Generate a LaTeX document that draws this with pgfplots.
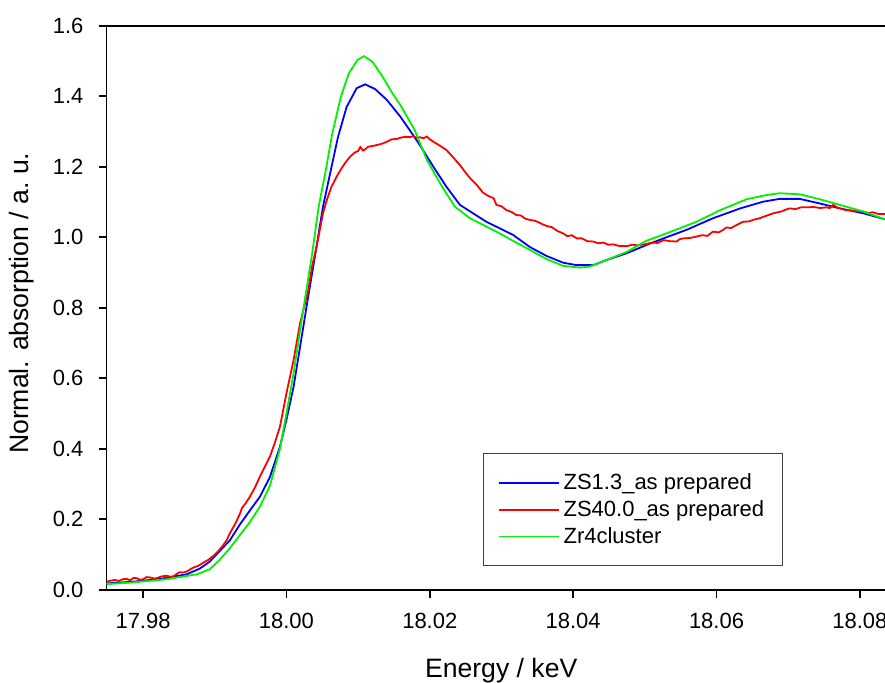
\documentclass[border=0pt]{standalone}
\usepackage{fontspec}
\setmainfont{Liberation Sans}
\usepackage{pgfplots}
\pgfplotsset{compat=1.18}
\definecolor{cblue}{rgb}{0,0,1}
\definecolor{cred}{rgb}{1,0,0}
\definecolor{cgreen}{rgb}{0,0.95,0}
\begin{document}
\begin{tikzpicture}
\begin{axis}[
  name=ax,
  scale only axis,
  width=389.25pt, height=282pt,
  xmin=17.9749, xmax=18.0835,
  ymin=0, ymax=1.6,
  axis x line*=box, axis y line*=left,
  xtick pos=left, ytick pos=left,
  xtick={17.98,18.00,...,18.08},
  ytick={0,0.2,...,1.6},
  xtick align=outside, ytick align=outside,
  major tick length=4pt,
  axis line style={line width=0.9pt},
  every tick/.style={black, line width=0.9pt},
  /pgf/number format/assume math mode=true,
  xticklabel style={/pgf/number format/.cd, fixed, fixed zerofill, precision=2, /tikz/.cd, font=\fontsize{11}{13}\selectfont, yshift=-4pt},
  yticklabel style={/pgf/number format/.cd, fixed, fixed zerofill, precision=1, /tikz/.cd, font=\fontsize{11}{13}\selectfont, xshift=-4pt},
  xlabel={Energy / keV},
  ylabel={Normal. absorption / a.\ u.},
  label style={font=\fontsize{13.3}{16}\selectfont},
  xlabel style={at={(axis description cs:0.507,0)}, anchor=north, yshift=-30.5pt},
  ylabel style={at={(axis description cs:0,0.508)}, anchor=south, yshift=32.5pt},
  legend style={at={(axis description cs:0.484,0.0427)}, anchor=south west,
    draw=black!75, line width=0.5pt, inner xsep=7pt, inner ysep=7.6pt,
    font=\fontsize{11}{13.5}\selectfont, row sep=0pt},
  legend cell align=left,
  legend image code/.code={\draw[#1, line width=0.9pt] (0pt,0pt) -- (25pt,0pt); \path (0pt,0pt) -- (30pt,0pt);},
  every axis plot/.append style={line width=0.9pt},
]
\addplot[cblue] coordinates {
(17.9749,0.018) (17.9786,0.023) (17.9824,0.031) (17.9861,0.044) (17.9879,0.060)
(17.9893,0.080) (17.9907,0.110) (17.9921,0.140) (17.9935,0.185) (17.9949,0.225)
(17.9963,0.264) (17.9977,0.320) (17.9991,0.406) (18.0000,0.482) (18.0010,0.576)
(18.0019,0.689) (18.0030,0.827) (18.0042,0.973) (18.0051,1.087) (18.0061,1.182)
(18.0072,1.285) (18.0084,1.370) (18.0098,1.423) (18.0110,1.434) (18.0124,1.420)
(18.0140,1.390) (18.0159,1.342) (18.0172,1.304) (18.0186,1.262) (18.0205,1.200)
(18.0223,1.144) (18.0242,1.092) (18.0265,1.062) (18.0279,1.044) (18.0293,1.030)
(18.0316,1.007) (18.0340,0.972) (18.0363,0.947) (18.0386,0.928) (18.0405,0.921)
(18.0428,0.921) (18.0447,0.936) (18.0475,0.955) (18.0502,0.978) (18.0530,1.000)
(18.0558,1.021) (18.0595,1.054) (18.0633,1.082) (18.0665,1.101) (18.0688,1.109)
(18.0716,1.109) (18.0744,1.096) (18.0772,1.082) (18.0805,1.068) (18.0835,1.051)
};
\addlegendentry{ZS1.3\_as prepared}
\addplot[cred] coordinates {
(17.9749,0.023) (17.9755,0.026) (17.9761,0.028) (17.9766,0.025) (17.9772,0.030)
(17.9777,0.031) (17.9782,0.027) (17.9787,0.034) (17.9791,0.033) (17.9796,0.028)
(17.9800,0.030) (17.9805,0.036) (17.9810,0.035) (17.9815,0.032) (17.9819,0.033)
(17.9826,0.038) (17.9833,0.040) (17.9838,0.037) (17.9842,0.038) (17.9847,0.045)
(17.9851,0.050) (17.9856,0.049) (17.9861,0.052) (17.9866,0.058) (17.9870,0.063)
(17.9877,0.068) (17.9884,0.077) (17.9891,0.085) (17.9898,0.096) (17.9905,0.110)
(17.9912,0.127) (17.9917,0.142) (17.9921,0.160) (17.9928,0.185) (17.9935,0.215)
(17.9938,0.232) (17.9943,0.245) (17.9949,0.264) (17.9956,0.290) (17.9963,0.321)
(17.9970,0.350) (17.9977,0.378) (17.9984,0.418) (17.9991,0.463) (18.0000,0.557)
(18.0010,0.652) (18.0019,0.756) (18.0030,0.845) (18.0036,0.920) (18.0042,0.973)
(18.0051,1.068) (18.0057,1.110) (18.0063,1.144) (18.0070,1.172) (18.0077,1.196)
(18.0083,1.214) (18.0089,1.229) (18.0095,1.240) (18.0100,1.245) (18.0103,1.256)
(18.0107,1.246) (18.0110,1.250) (18.0114,1.257) (18.0120,1.259) (18.0127,1.262)
(18.0134,1.266) (18.0140,1.271) (18.0147,1.278) (18.0154,1.279) (18.0160,1.283)
(18.0166,1.285) (18.0172,1.284) (18.0177,1.287) (18.0182,1.282) (18.0186,1.284)
(18.0191,1.281) (18.0196,1.286) (18.0200,1.278) (18.0205,1.271) (18.0214,1.260)
(18.0223,1.248) (18.0232,1.228) (18.0242,1.205) (18.0249,1.186) (18.0256,1.168)
(18.0265,1.150) (18.0274,1.127) (18.0281,1.118) (18.0289,1.111) (18.0293,1.092)
(18.0300,1.088) (18.0307,1.077) (18.0314,1.072) (18.0321,1.063) (18.0327,1.062)
(18.0333,1.053) (18.0340,1.049) (18.0347,1.047) (18.0355,1.039) (18.0363,1.032)
(18.0370,1.029) (18.0378,1.018) (18.0386,1.011) (18.0392,1.003) (18.0398,1.006)
(18.0405,0.997) (18.0412,0.997) (18.0420,0.989) (18.0428,0.988) (18.0435,0.983)
(18.0442,0.985) (18.0449,0.979) (18.0456,0.980) (18.0465,0.975) (18.0475,0.975)
(18.0483,0.979) (18.0490,0.977) (18.0502,0.981) (18.0510,0.985) (18.0518,0.984)
(18.0526,0.992) (18.0535,0.989) (18.0544,0.988) (18.0549,0.995) (18.0554,0.997)
(18.0563,0.998) (18.0572,1.002) (18.0580,1.006) (18.0587,1.004) (18.0595,1.016)
(18.0603,1.014) (18.0609,1.021) (18.0614,1.028) (18.0620,1.026) (18.0628,1.035)
(18.0637,1.044) (18.0645,1.045) (18.0652,1.050) (18.0660,1.054) (18.0668,1.060)
(18.0679,1.068) (18.0690,1.073) (18.0696,1.078) (18.0702,1.082) (18.0710,1.080)
(18.0718,1.085) (18.0726,1.085) (18.0735,1.086) (18.0745,1.083) (18.0753,1.085)
(18.0758,1.083) (18.0763,1.092) (18.0768,1.085) (18.0775,1.080) (18.0781,1.077)
(18.0790,1.076) (18.0797,1.074) (18.0805,1.073) (18.0812,1.069) (18.0818,1.071)
(18.0826,1.066) (18.0835,1.066)
};
\addlegendentry{ZS40.0\_as prepared}
\addplot[cgreen] coordinates {
(17.9749,0.016) (17.9786,0.021) (17.9833,0.030) (17.9875,0.044) (17.9893,0.058)
(17.9907,0.085) (17.9921,0.118) (17.9935,0.155) (17.9949,0.192) (17.9963,0.236)
(17.9977,0.295) (17.9991,0.400) (18.0000,0.500) (18.0010,0.614) (18.0019,0.735)
(18.0026,0.827) (18.0036,0.955) (18.0045,1.087) (18.0055,1.191) (18.0064,1.295)
(18.0076,1.399) (18.0087,1.465) (18.0099,1.503) (18.0108,1.514) (18.0120,1.498)
(18.0134,1.456) (18.0148,1.408) (18.0159,1.375) (18.0179,1.304) (18.0196,1.219)
(18.0217,1.144) (18.0235,1.087) (18.0256,1.054) (18.0293,1.016) (18.0316,0.990)
(18.0340,0.964) (18.0363,0.938) (18.0386,0.919) (18.0409,0.914) (18.0423,0.917)
(18.0447,0.936) (18.0475,0.959) (18.0502,0.990) (18.0530,1.011) (18.0572,1.044)
(18.0605,1.077) (18.0642,1.108) (18.0670,1.120) (18.0688,1.125) (18.0716,1.122)
(18.0744,1.108) (18.0772,1.092) (18.0805,1.073) (18.0835,1.051)
};
\addlegendentry{Zr4cluster}
\end{axis}
\pgfresetboundingbox
\path[use as bounding box] ([xshift=-53.25pt,yshift=-46.1pt]ax.south west) rectangle ([yshift=12.9pt]ax.north east);
\end{tikzpicture}
\end{document}
